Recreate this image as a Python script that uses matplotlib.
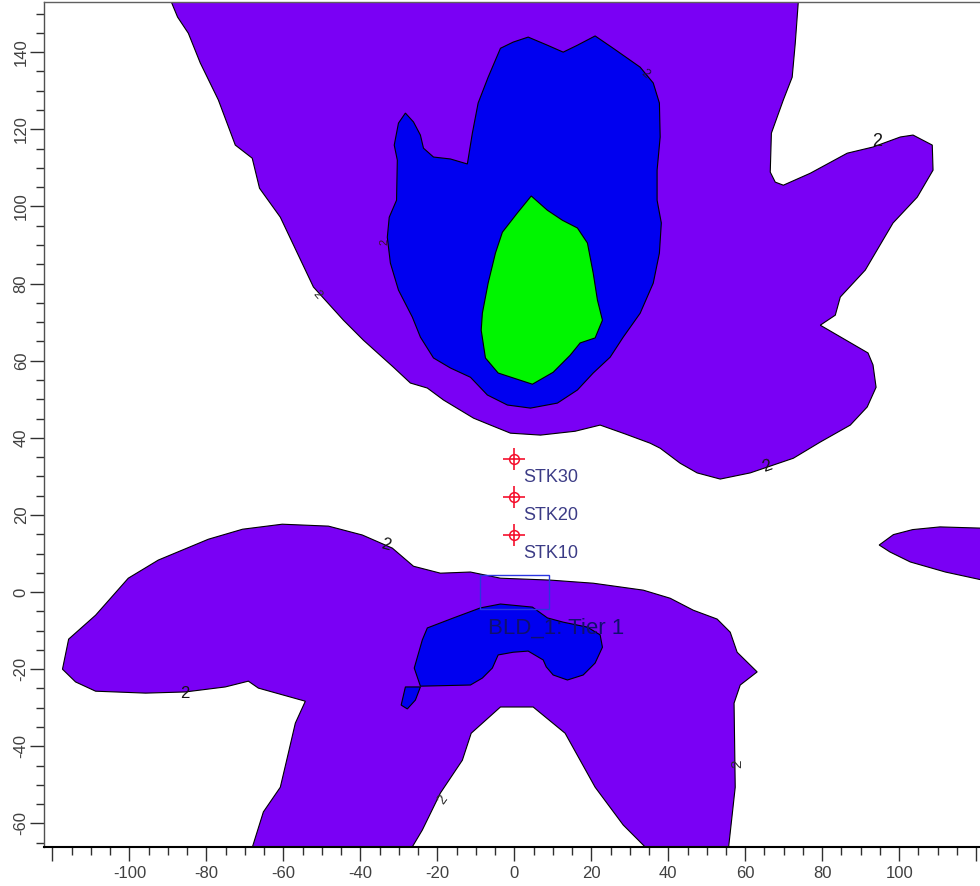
import matplotlib
matplotlib.use("Agg")
import matplotlib.pyplot as plt
from matplotlib.patches import Polygon, Rectangle
from matplotlib.ticker import MultipleLocator

plt.rcParams['font.family'] = ['Liberation Sans', 'DejaVu Sans']

upper_level2 = [(-89.2,153.2),(-87.5,149.1),(-84.7,144.9),(-81.6,137.2),(-76.9,127.6),(-72.5,115.9),(-68.1,112.5),
    (-66.2,104.7),(-60.8,97.2),(-52.2,79.1),(-44.4,70.5),(-39.2,65.3),(-31.4,58.3),(-27,54.2),(-22.6,52.9),
    (-18.4,49.8),(-10.6,45.1),(-6.2,43.3),(-1,41.2),(6.8,40.7),(15.8,41.7),(22.3,43.3),(28.8,41),(35.3,38.6),
    (37.9,37.3),(43.1,33.4),(47.5,30.9),(53.5,29.3),(61.3,30.9),(72.5,34.7),(79.5,38.9),(87.3,43.3),(91.7,48),
    (94,53.1),(93.2,58.9),(91.9,62),(79.5,69.2),(83.4,71.8),(84.7,76.5),(91.2,83.5),(98.4,95.7),(104.7,102.4),
    (108.8,109.4),(108.6,115.9),(103.6,118.5),(100.3,118),(93.2,115.4),(86.5,113.8),(76.9,108.6),(69.9,105.5),
    (67.8,106.3),(66.5,108.9),(66.8,119),(69.9,127.6),(72.2,133.5),(73,142.3),(73.8,153.2)]
upper_level3 = [(-28.3,124.2),(-26.2,121.9),(-24.4,118.5),(-23.6,115.1),(-21,112.8),(-16.6,112.3),(-12.2,111),
    (-10.9,119),(-9.4,126.8),(-6.8,133.5),(-3.6,141),(-0.3,142.6),(3.6,143.9),(8.6,141.8),(12.7,140),(16.4,141.8),
    (21,144.2),(25.7,141),(32.7,136.1),(36.1,132),(37.7,126.8),(37.9,118),(37.1,109.4),(37.1,101.6),(38.2,95.7),
    (37.7,87.9),(36.1,80.1),(32.7,72.3),(28.3,66.1),(24.9,60.9),(20.5,56.8),(16.4,52.4),(11.2,49),(4.2,47.7),
    (-1.8,48.5),(-7,51.1),(-11.4,55.7),(-16.6,58.1),(-21,60.7),(-24.4,66.1),(-26.5,71.3),(-30.1,78.3),(-32.2,85.3),
    (-33,92),(-32.5,97.2),(-30.6,101.6),(-30.4,112),(-31.2,115.9),(-30.1,121.6)]
upper_level4 = [(4.4,102.7),(0.8,98.3),(-3.1,93.3),(-4.9,87.9),(-6.8,80.1),(-8.3,72.3),(-8.6,67.9),(-7.5,60.7),
    (-4.2,56.8),(4.7,53.9),(10.1,57),(14.5,61.4),(17.1,64.6),(21,65.9),(22.9,70.5),(21.6,75.7),(20.5,82.7),
    (19,90.5),(16.4,94.4),(12.5,96.4),(8.6,99)]
lower_level2 = [(-117.4,-20),(-115.8,-12.2),(-108.8,-6),(-100.3,3.6),(-92.5,8.3),(-79.5,13.7),(-70.6,16.3),
    (-60.3,17.6),(-48.3,17.1),(-39.5,14.8),(-31.7,11.4),(-26.2,6.7),(-19.2,4.9),(-11.4,5.2),(-3.6,3.6),(9.4,3.1),
    (20.5,2.3),(33.5,0.5),(40.5,-1.6),(46.5,-4.7),(52.7,-7),(56.1,-10.4),(57.9,-15.6),(63.1,-20.7),(58.7,-24.1),
    (57.1,-28.8),(57.4,-50.6),(55.6,-66.9),(34.8,-66.9),(28.3,-60.4),(21,-50.6),(13.2,-36.6),(4.9,-29.8),(-3.6,-29.8),
    (-11.2,-36.6),(-13.5,-43.6),(-19.2,-52.1),(-23.9,-61.7),(-27,-66.9),(-68.3,-66.9),(-65.2,-57),(-60.8,-50.6),
    (-58.7,-41.7),(-56.9,-34),(-54.3,-28.3),(-66.5,-24.9),(-69.1,-23.1),(-75.1,-24.6),(-85.5,-25.9),(-95.8,-26.2),
    (-108.8,-25.7),(-114,-23.3)]
right_level2 = [(124,16.5),(110.6,16.9),(103.5,16.2),(98.5,14.9),(94.8,12.2),(97.6,10.4),(102.9,7.8),(112,5.2),(124,2.6)]
lower_level3 = [(-23.9,-12.4),(-22.6,-9.3),(-15.8,-6.7),(-8.8,-4.1),(-3.6,-3.1),(4.7,-3.9),(8.6,-6.7),(12.7,-7.8),
    (19,-9.1),(22.3,-11.1),(22.9,-14.3),(21,-18.4),(17.9,-21.5),(13.8,-22.8),(10.1,-21.5),(8.3,-19.4),(7.5,-17.6),
    (3.6,-15.3),(-0.3,-15.6),(-4.2,-16.3),(-5.7,-19.7),(-8.3,-22.3),(-11.4,-24.1),(-24.4,-24.4),(-26,-19.7)]
small_level3 = [(-28.3,-24.6),(-24.4,-24.6),(-25.7,-28),(-27.8,-30.3),(-29.4,-29.3)]

stack_names = ["STK30", "STK20", "STK10"]
stack_x = [0, 0, 0]
stack_y = [34.5, 24.7, 14.8]
building_label = "BLD_1: Tier 1"
building_box = (-9, -4.5, 18, 9)
contour_x = [94.3, 65.7, -33.5, -85.5, -33.7, -51.4, 34, -18.7, 57.9]
contour_y = [116.8, 32.7, 12.2, -26.3, 90.7, 77, 134.3, -53.9, -44.6]
contour_rot = [0, 20, -15, 0, 90, -50, -40, 55, 90]
contour_size = [13, 12, 12, 12, 8, 9, 9, 10, 11]
contour_col = ['#151515', '#151515', '#151515', '#151515', '#40102a', '#303030', '#201040', '#303030', '#303030']
x_ticks = [-120, -100, -80, -60, -40, -20, 0, 20, 40, 60, 80, 100, 120]
x_tick_labels = ["", "-100", "-80", "-60", "-40", "-20", "0", "20", "40", "60", "80", "100", ""]
y_ticks = [-60, -40, -20, 0, 20, 40, 60, 80, 100, 120, 140]
y_tick_labels = ["-60", "-40", "-20", "0", "20", "40", "60", "80", "100", "120", "140"]

PURPLE, BLUE, GREEN = '#7a00f5', '#0000f0', '#00f500'

fig = plt.figure(figsize=(9.8, 8.86), dpi=100)
ax = fig.add_axes([44/980, 1-847/886, 936/980, 845/886])

for pts, col, z in [(upper_level2, PURPLE, 1), (lower_level2, PURPLE, 1), (right_level2, PURPLE, 1),
                    (upper_level3, BLUE, 2), (lower_level3, BLUE, 2), (small_level3, BLUE, 2),
                    (upper_level4, GREEN, 3)]:
    ax.add_patch(Polygon(pts, closed=True, facecolor=col, edgecolor='black', lw=0.8, zorder=z))

for cx, cy, r, c, s in zip(contour_x, contour_y, contour_rot, contour_col, contour_size):
    ax.text(cx, cy, "2", fontsize=s, rotation=r, ha='center', va='center', color=c, zorder=4)

ax.add_patch(Rectangle(building_box[:2], building_box[2], building_box[3], fill=False,
                       edgecolor='#2a35e0', lw=1.0, zorder=5))
ax.text(-6.8, -9.4, building_label, fontsize=16, color='#10106e', ha='left', va='center', zorder=5)

ax.plot(stack_x, stack_y, ls='none', marker='o', ms=7, mfc='none', mec='#f5102d', mew=1.1, zorder=6)
ax.plot(stack_x, stack_y, ls='none', marker='+', ms=16, mec='#f5102d', mew=1.2, zorder=6)
for name, sx, sy in zip(stack_names, stack_x, stack_y):
    ax.text(sx + 2.3, sy - 4.8, name, fontsize=13, color='#3c3c86', ha='left', va='center', zorder=6)

ax.set_xticks(x_ticks, x_tick_labels)
ax.set_yticks(y_ticks, y_tick_labels)
ax.set_xlim(-122.2, 121)
ax.set_ylim(-66.1, 153)
ax.xaxis.set_minor_locator(MultipleLocator(5))
ax.yaxis.set_minor_locator(MultipleLocator(5))
ax.tick_params(which='major', length=10, width=1.0, color='#303030', labelsize=12, labelcolor='#404040')
ax.tick_params(which='minor', length=5.5, width=1.0, color='#303030')
ax.tick_params(axis='x', which='major', pad=3.6)
ax.tick_params(axis='y', which='major', pad=1)
for lab in ax.get_yticklabels():
    lab.set_rotation(90)
    lab.set_va('center')

ax.spines['right'].set_visible(False)
ax.spines['top'].set_color('#606060')
ax.spines['top'].set_linewidth(1.0)
ax.spines['left'].set_color('#505050')
ax.spines['left'].set_linewidth(1.0)
ax.spines['bottom'].set_color('#000000')
ax.spines['bottom'].set_linewidth(1.5)

fig.savefig("out.png", dpi=100)
